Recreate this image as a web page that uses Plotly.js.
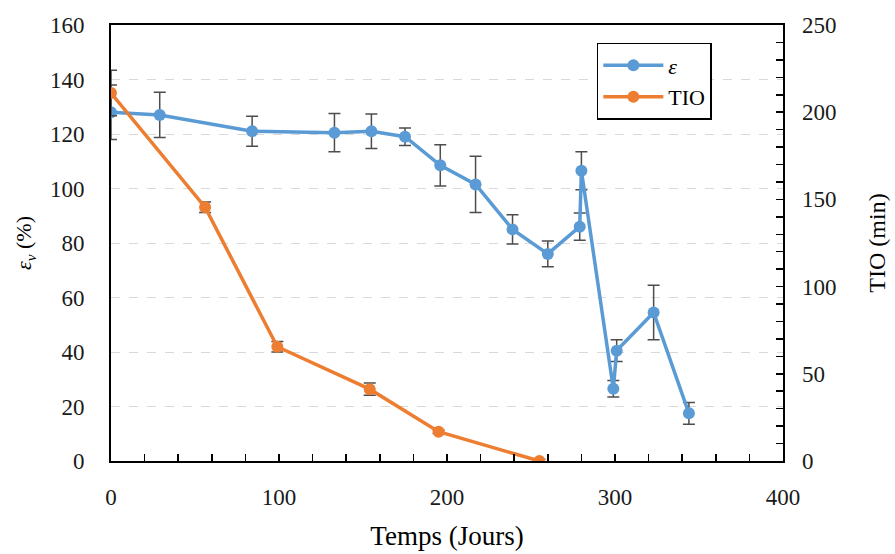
<!DOCTYPE html>
<html>
<head>
<meta charset="utf-8">
<script src="https://cdn.plot.ly/plotly-3.0.1.min.js"></script>
<style>html,body{margin:0;padding:0;background:#fff;}#chart{width:895px;height:554px;}</style>
</head>
<body>
<div id="chart"></div>
<script>
// ε (left axis, %)
const epsDays = [0, 29, 84, 133, 155, 175, 196, 217, 239, 260, 279, 280, 299, 301, 323, 344];
const epsValues = [128, 127, 121, 120.5, 121, 119, 108.5, 101.5, 85, 76, 86, 106.5, 26.5, 40.5, 54.5, 17.5];
const epsErrors = [10, 8.3, 5.5, 7, 6.3, 3.2, 7.6, 10.3, 5.4, 4.7, 5, 7, 3, 4, 10, 4];

// TIO (right axis, min)
const tioDays = [0, 56, 99, 154, 195, 255];
const tioValues = [211, 145.5, 65.5, 41.2, 16.8, 0];
const tioErrors = [13, 3, 3, 3.5, 1, 1];

const xTickLabels = ['0', '100', '200', '300', '400'];
const xTickValues = [0, 100, 200, 300, 400];

const serif = '"Liberation Serif", "Times New Roman", serif';
function tickFont() { return {family: serif, size: 23, color: '#1a1a1a'}; }

const traces = [
  {
    x: epsDays, y: epsValues, name: '<i>ε</i>', type: 'scatter', mode: 'lines+markers',
    line: {color: '#5B9BD5', width: 3.5},
    marker: {color: '#5B9BD5', size: 12},
    error_y: {type: 'data', array: epsErrors, visible: true, color: '#4d4d4d', thickness: 1.5, width: 6},
    yaxis: 'y'
  },
  {
    x: tioDays, y: tioValues, name: 'TIO', type: 'scatter', mode: 'lines+markers',
    line: {color: '#ED7D31', width: 3.5},
    marker: {color: '#ED7D31', size: 12},
    error_y: {type: 'data', array: tioErrors, visible: true, color: '#4d4d4d', thickness: 1.5, width: 6},
    yaxis: 'y2'
  }
];

const layout = {
  width: 895, height: 554,
  margin: {l: 111, r: 112, t: 25, b: 93},
  paper_bgcolor: '#ffffff', plot_bgcolor: '#ffffff',
  font: {family: serif, size: 23, color: '#1a1a1a'},
  showlegend: true,
  legend: {
    x: 0.723, y: 0.959, xanchor: 'left', yanchor: 'top',
    bgcolor: '#ffffff', bordercolor: '#000000', borderwidth: 1.5,
    font: {family: serif, size: 22, color: '#000000'},
    itemwidth: 60
  },
  xaxis: {
    range: [0, 400], tickvals: xTickValues, ticktext: xTickLabels,
    ticks: 'inside', ticklen: 7, tickwidth: 1.5, tickcolor: '#000',
    minor: {dtick: 20, ticks: 'inside', ticklen: 7, tickwidth: 1.5, tickcolor: '#000', showgrid: false},
    showline: true, linecolor: '#000', linewidth: 2, mirror: true,
    showgrid: false, zeroline: false,
    tickfont: tickFont(), ticklabelstandoff: 14,
    title: {text: 'Temps (Jours)', font: {family: serif, size: 27, color: '#000'}, standoff: 18}
  },
  yaxis: {
    range: [0, 160], dtick: 20, ticks: '',
    showline: true, linecolor: '#000', linewidth: 2, mirror: true,
    showgrid: true, gridcolor: '#d9d9d9', griddash: 'dash', gridwidth: 1,
    zeroline: false,
    tickfont: tickFont(), ticklabelstandoff: 20,
    title: {text: '<i>ε<sub>v</sub></i> (%)', font: {family: serif, size: 22, color: '#000'}, standoff: 12}
  },
  yaxis2: {
    range: [0, 250], dtick: 50, overlaying: 'y', side: 'right',
    ticks: 'inside', ticklen: 7, tickwidth: 1.5, tickcolor: '#000',
    minor: {dtick: 10, ticks: 'inside', ticklen: 7, tickwidth: 1.5, tickcolor: '#000', showgrid: false},
    showline: false, showgrid: false, zeroline: false,
    tickfont: tickFont(), ticklabelstandoff: 18,
    title: {text: 'TIO (min)', font: {family: serif, size: 24, color: '#000'}, standoff: 32}
  }
};

Plotly.newPlot('chart', traces, layout, {displayModeBar: false, staticPlot: true});
</script>
</body>
</html>
